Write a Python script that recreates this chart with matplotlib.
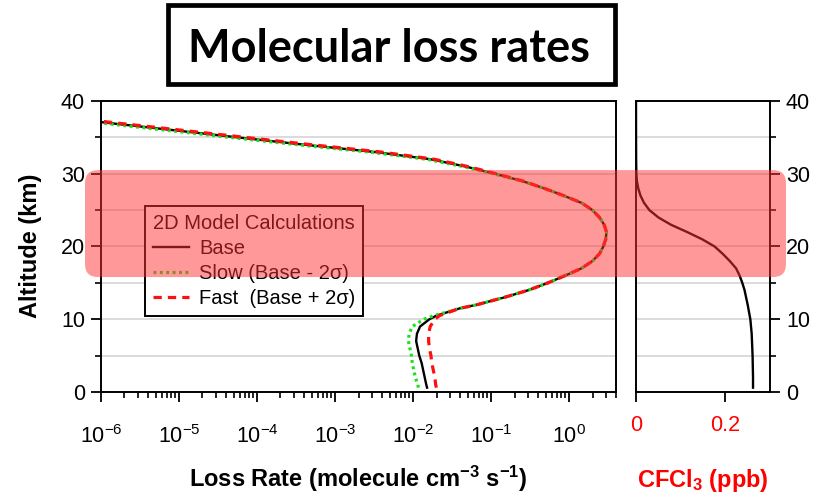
import matplotlib
matplotlib.use("Agg")
import numpy as np
import matplotlib.pyplot as plt
from matplotlib.patches import FancyBboxPatch, Rectangle
from matplotlib.transforms import IdentityTransform
from matplotlib.ticker import LogLocator, MultipleLocator, NullFormatter

plt.rcParams["font.family"] = ["Liberation Sans", "DejaVu Sans"]
plt.rcParams["mathtext.fontset"] = "custom"
plt.rcParams["mathtext.rm"] = "Liberation Sans"
plt.rcParams["mathtext.it"] = "Liberation Sans:italic"
plt.rcParams["mathtext.bf"] = "Liberation Sans:bold"

# altitude grid (km) shared by the loss-rate profiles
altitude = [0.6, 1, 2, 3, 4, 5, 6, 7, 8, 9, 10, 10.5, 11, 11.5, 12, 13, 14, 15,
            16, 17, 18, 19, 20, 21, 22, 23, 24, 25, 26, 27, 28, 29, 30, 31,
            32, 33, 34, 35, 36, 37, 37.2]

# log10 of loss rate (molecule cm-3 s-1)
log_base = [-1.82, -1.83, -1.85, -1.87, -1.89, -1.92, -1.94, -1.96, -1.95, -1.91,
            -1.79, -1.70, -1.55, -1.40, -1.18, -0.83, -0.52, -0.27, -0.05, 0.16,
            0.30, 0.39, 0.44, 0.47, 0.48, 0.45, 0.39, 0.30, 0.16, -0.07, -0.32,
            -0.60, -0.95, -1.33, -1.78, -2.50, -3.40, -4.25, -5.08, -5.92, -6.08]
log_slow = [-1.93, -1.94, -1.97, -1.99, -2.01, -2.02, -2.04, -2.06, -2.05, -2.01,
            -1.86, -1.73, -1.56, -1.40, -1.18, -0.83, -0.52, -0.27, -0.05, 0.16,
            0.30, 0.39, 0.44, 0.47, 0.48, 0.45, 0.39, 0.30, 0.16, -0.07, -0.32,
            -0.61, -0.97, -1.36, -1.83, -2.58, -3.49, -4.35, -5.18, -6.02, -6.18]
log_fast = [-1.70, -1.71, -1.72, -1.74, -1.76, -1.77, -1.79, -1.80, -1.80, -1.78,
            -1.72, -1.66, -1.53, -1.40, -1.18, -0.83, -0.52, -0.27, -0.05, 0.16,
            0.30, 0.39, 0.44, 0.47, 0.48, 0.45, 0.39, 0.30, 0.16, -0.07, -0.32,
            -0.59, -0.93, -1.30, -1.73, -2.42, -3.31, -4.15, -4.98, -5.82, -5.98]

# CFCl3 mixing ratio profile (ppb)
cfc_alt = [0.6, 2, 5, 8, 10, 12, 14, 15, 16, 17, 18, 19, 20, 21, 22, 23, 24,
           25, 26, 27, 28, 29, 30, 32, 35, 40]
cfc_ppb = [0.262, 0.262, 0.261, 0.259, 0.256, 0.250, 0.243, 0.238, 0.232, 0.224,
           0.210, 0.194, 0.176, 0.148, 0.114, 0.078, 0.050, 0.030, 0.018, 0.010,
           0.005, 0.002, 0.0008, 0.0003, 0.0001, 0.0]

# altitude range highlighted across both panels
band_km = (15.8, 30.5)

fig = plt.figure(figsize=(8.27, 4.98), dpi=100)
ax = fig.add_axes([101 / 827, 1 - 392 / 498, 515 / 827, 291 / 498])
ax2 = fig.add_axes([636 / 827, 1 - 392 / 498, 134 / 827, 291 / 498])

base = 10 ** np.array(log_base)
slow = 10 ** np.array(log_slow)
fast = 10 ** np.array(log_fast)

ax.plot(base, altitude, color="black", lw=1.7, label="Base", zorder=3)
ax.plot(slow, altitude, color="#1ee01e", lw=2.3, ls=(0, (0.9, 1.1)),
        label="Slow (Base - 2σ)", zorder=4)
ax.plot(fast, altitude, color="#ff1010", lw=2.3, ls=(0, (2.6, 1.9)),
        label="Fast  (Base + 2σ)", zorder=5)

ax.set_xscale("log")
ax.set_xlim(1e-6, 4)
ax.set_ylim(0, 40)
ax.xaxis.set_major_locator(LogLocator(base=10, numticks=12))
ax.xaxis.set_minor_locator(LogLocator(base=10, subs=np.arange(2, 10), numticks=12))
ax.xaxis.set_minor_formatter(NullFormatter())

ax2.plot(cfc_ppb, cfc_alt, color="black", lw=1.7, zorder=3)
ax2.set_xlim(0, 0.3)
ax2.set_ylim(0, 40)
ax2.set_xticks([0, 0.2])
ax2.set_xticklabels(["0", "0.2"], color="red")
ax2.yaxis.tick_right()

for a in (ax, ax2):
    a.yaxis.set_major_locator(MultipleLocator(10))
    a.yaxis.set_minor_locator(MultipleLocator(5))
    a.yaxis.grid(True, which="both", color="#d8d8d8", lw=1.3)
    a.set_axisbelow(True)
    a.tick_params(which="major", direction="out", length=7.5, width=1.3,
                  labelsize=15.5, pad=4)
    a.tick_params(which="minor", direction="out", length=4.5, width=1.2)
    for s in a.spines.values():
        s.set_linewidth(1.4)

ax.tick_params(axis="x", which="major", pad=16)
ax2.tick_params(axis="x", which="major", pad=9)
ax2.tick_params(axis="y", which="both", left=False, right=True)
ax.tick_params(axis="y", which="both", right=False)

leg = ax.legend(loc="upper left", bbox_to_anchor=(0.085, 0.639),
                borderaxespad=0, title="2D Model Calculations",
                alignment="left", fontsize=14.5, title_fontsize=14.5,
                frameon=True, fancybox=False, framealpha=1, edgecolor="black",
                handlelength=1.8, handletextpad=0.5, labelspacing=0.3,
                borderpad=0.4)
leg.get_frame().set_linewidth(1.4)

fig.text(31 / 827, 1 - 246 / 498, "Altitude (km)", rotation=90,
         ha="center", va="center", fontsize=17, fontweight="bold")
fig.text(358 / 827, 1 - 487 / 498,
         r"Loss Rate (molecule cm$^{\mathbf{-3}}$ s$^{\mathbf{-1}}$)",
         ha="center", va="baseline", fontsize=17, fontweight="bold")
fig.text(703 / 827, 1 - 487 / 498, r"CFCl$_{\mathbf{3}}$ (ppb)",
         ha="center", va="baseline", fontsize=17, fontweight="bold", color="red")

# title box
fig.add_artist(Rectangle((168 / 827, 1 - 84 / 498), 447 / 827, 79 / 498,
                         transform=fig.transFigure, facecolor="white",
                         edgecolor="black", lw=3.4))
fig.text(389 / 827, 1 - 62 / 498, "Molecular loss rates", ha="center",
         va="baseline", fontsize=32.5, fontweight="bold",
         family=["Lato", "DejaVu Sans"])

# translucent band over both panels
y0 = ax.transData.transform((1e-6, band_km[0]))[1]
y1 = ax.transData.transform((1e-6, band_km[1]))[1]
x0 = ax.get_position().x0 * fig.bbox.width - 16
x1 = ax2.get_position().x1 * fig.bbox.width + 16
band = FancyBboxPatch((x0, y0), x1 - x0, y1 - y0,
                      boxstyle="round,pad=0,rounding_size=13",
                      transform=IdentityTransform(), facecolor="#ff3333",
                      edgecolor="none", alpha=0.5, zorder=10)
fig.add_artist(band)

fig.savefig("out.png", dpi=100)
